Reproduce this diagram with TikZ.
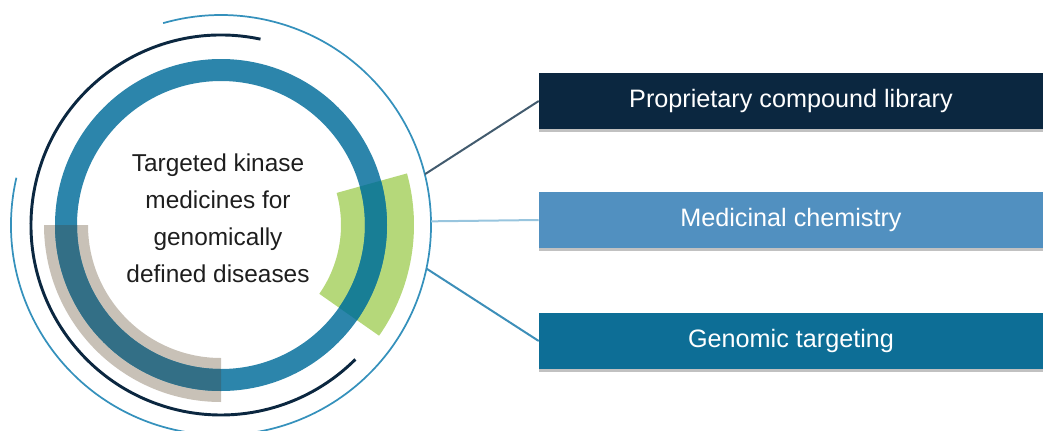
\documentclass[tikz,border=0pt]{standalone}
\usepackage{fontspec}
\setmainfont{Liberation Sans}
\usetikzlibrary{shadows}
\definecolor{ringblue}{HTML}{2C85AB}
\definecolor{navy}{HTML}{0B2740}
\definecolor{thinblue}{HTML}{3591BC}
\definecolor{leafgreen}{HTML}{B5D87A}
\definecolor{stone}{HTML}{C8C1B7}
\definecolor{stoneblue}{HTML}{336F86}
\definecolor{leafblue}{HTML}{187E95}
\definecolor{midblue}{HTML}{5190C0}
\definecolor{deepblue}{HTML}{0D6E96}
\definecolor{linkdark}{HTML}{425B6E}
\definecolor{linklight}{HTML}{98C5DE}
\definecolor{linkmid}{HTML}{3D8FB9}
\definecolor{inktext}{HTML}{1E1E1E}
\tikzset{
  pillar/.style={minimum width=378pt, minimum height=42pt, inner sep=0pt,
    text=white, font=\fontsize{18.9}{22}\selectfont,
    drop shadow={shadow xshift=0pt, shadow yshift=-2.5pt, opacity=0.35, fill=black!70}},
  link/.style={line width=1.5pt},
}
% annular sector: colour, centre name, start angle, end angle, inner radius, outer radius
\newcommand{\bandsector}[6]{%
  \fill[#1] ([shift={(#3:#5)}]#2) arc[start angle=#3, end angle=#4, radius=#5]
    -- ([shift={(#4:#6)}]#2) arc[start angle=#4, end angle=#3, radius=#6] -- cycle;}
\begin{document}
\begin{tikzpicture}[x=0.75pt,y=0.75pt]
\useasboundingbox (0,0) rectangle (1050,430);
\coordinate (c) at (221,205);
\node[circle, minimum size=315pt, inner sep=0pt] (hub) at (c) {};

% coloured bands behind the main ring
\bandsector{stone}{c}{180}{270}{133}{177}
\bandsector{leafgreen}{c}{-35}{15.5}{120}{193}

% main ring
\draw[ringblue, line width=16.5pt] (c) circle[radius=155];

% ring where it crosses the bands
\bandsector{stoneblue}{c}{180}{270}{144}{166}
\bandsector{leafblue}{c}{-35}{15.5}{144}{166}

% outer arcs
\draw[navy, line width=2.2pt] ([shift={(78:190)}]c) arc[start angle=78, end angle=315, radius=190];
\draw[thinblue, line width=1.3pt] ([shift={(167:210)}]c) arc[start angle=167, end angle=466, radius=210];

% centre caption
\node[align=center, text=inktext, font=\fontsize{18.3}{27.7}\selectfont] (core) at (218,212)
  {Targeted kinase\\medicines for\\genomically\\defined diseases};

% the three pillars
\node[pillar, fill=navy] (lib) at (791,329) {Proprietary compound library};
\node[pillar, fill=midblue] (chem) at (791,210) {Medicinal chemistry};
\node[pillar, fill=deepblue] (gen) at (791,89) {Genomic targeting};

% connectors
\draw[link, linkdark] (hub.14) -- (lib.west);
\draw[link, linklight] (hub.1.4) -- (chem.west);
\draw[link, linkmid] (hub.-12) -- (gen.west);
\end{tikzpicture}
\end{document}
